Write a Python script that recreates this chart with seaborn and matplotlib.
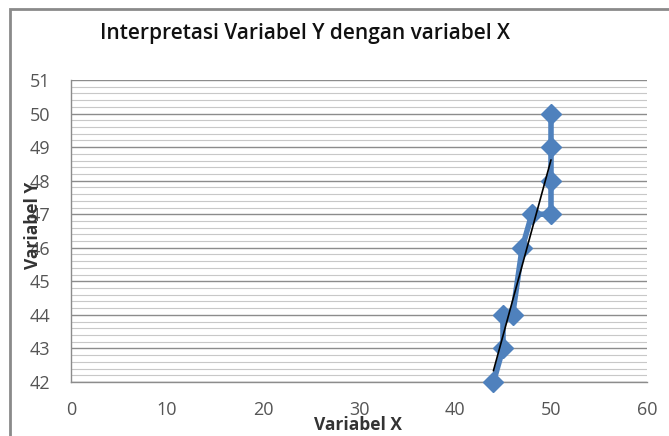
import matplotlib
matplotlib.use("Agg")
import matplotlib.pyplot as plt
import seaborn as sns
import pandas as pd
from matplotlib.ticker import MultipleLocator
from matplotlib.patches import Rectangle

x_vals = [44, 45, 45, 46, 47, 48, 50, 50, 50, 50]
y_vals = [42, 43, 44, 44, 46, 47, 47, 48, 49, 50]
title = "Interpretasi Variabel Y dengan variabel X"
x_label = "Variabel X"
y_label = "Variabel Y"

df = pd.DataFrame({"x": x_vals, "y": y_vals})

sns.set_theme(style="white")
plt.rcParams['font.family'] = ['Open Sans', 'DejaVu Sans']

fig = plt.figure(figsize=(6.69, 4.36), dpi=100)
ax = fig.add_axes([71/669, 1-382/436, 576/669, 302/436])

blue = "#4F81BD"
ax.plot(df["x"], df["y"], color=blue, lw=4, marker="D", ms=10,
        markerfacecolor=blue, markeredgecolor=blue, zorder=3, clip_on=False)
sns.regplot(data=df, x="x", y="y", ax=ax, ci=None, scatter=False,
            line_kws=dict(color="black", lw=1.2, zorder=4), truncate=True)

ax.set_xlim(0, 60)
ax.set_ylim(42, 51)
ax.xaxis.set_major_locator(MultipleLocator(10))
ax.yaxis.set_major_locator(MultipleLocator(1))
ax.yaxis.set_minor_locator(MultipleLocator(0.2))

ax.grid(False)
ax.yaxis.grid(True, which="major", color="#8c8c8c", lw=1.0)
ax.yaxis.grid(True, which="minor", color="#c8c8c8", lw=0.8)
ax.set_axisbelow(True)

for s in ["top", "right"]:
    ax.spines[s].set_visible(False)
for s in ["left", "bottom"]:
    ax.spines[s].set_color("#8c8c8c")
    ax.spines[s].set_linewidth(1.0)

ax.tick_params(axis="both", which="major", direction="out", length=6, width=1,
               color="#8c8c8c", labelsize=13, labelcolor="#555555", pad=8)
ax.tick_params(axis="y", which="minor", length=0)
ax.tick_params(axis="y", pad=9)

ax.set_xlabel(x_label, fontsize=12.5, fontweight="bold", color="#333333")
ax.set_ylabel(y_label, fontsize=12.5, fontweight="bold", color="#333333")
ax.xaxis.set_label_coords(0.498, -0.113)
ax.yaxis.set_label_coords(-0.050, 0.52)

fig.text(100/669, 1-33/436, title, fontsize=15, fontweight="semibold",
         color="#111111", va="center", ha="left")

fig.patches.append(Rectangle((10/669, -0.1), 1.2, 1-9/436+0.1,
                             transform=fig.transFigure, fill=False,
                             edgecolor="#8a8a8a", lw=2))

fig.savefig("out.png", dpi=100)
